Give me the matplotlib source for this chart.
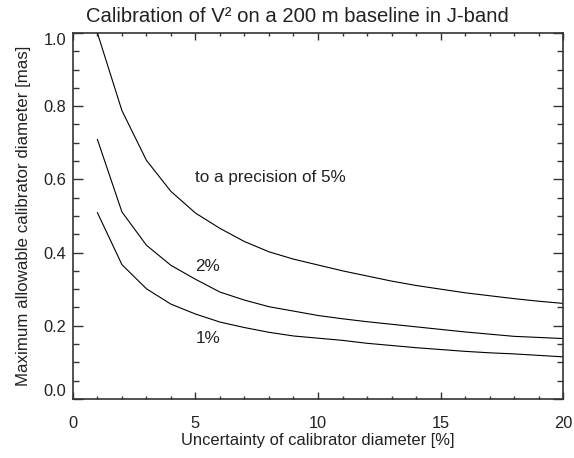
import numpy as np
import matplotlib
matplotlib.use('Agg')
import matplotlib.pyplot as plt
from matplotlib.ticker import MultipleLocator

plt.rcParams['font.family'] = ['Liberation Sans', 'DejaVu Sans']

# Uncertainty of calibrator diameter [%]
uncertainty = [1, 2, 3, 4, 5, 6, 7, 8, 9, 10, 11, 12, 13, 14, 15, 16, 17, 18, 19, 20]

# Maximum allowable diameter [mas] for each required precision
diam_5pct = [1.00, 0.788, 0.652, 0.567, 0.508, 0.466, 0.430, 0.402, 0.382, 0.366,
             0.350, 0.336, 0.322, 0.310, 0.300, 0.290, 0.282, 0.274, 0.267, 0.261]
diam_2pct = [0.709, 0.511, 0.420, 0.365, 0.327, 0.292, 0.270, 0.252, 0.240, 0.228,
             0.219, 0.211, 0.204, 0.197, 0.190, 0.183, 0.177, 0.171, 0.168, 0.165]
diam_1pct = [0.509, 0.367, 0.301, 0.259, 0.232, 0.210, 0.195, 0.182, 0.172, 0.166,
             0.160, 0.152, 0.146, 0.140, 0.135, 0.130, 0.126, 0.123, 0.119, 0.115]

curve_labels = ['to a precision of 5%', '2%', '1%']
label_pos = [(5.0, 0.605), (5.0, 0.362), (5.0, 0.165)]

xticks = [0, 5, 10, 15, 20]
yticks = [0.0, 0.2, 0.4, 0.6, 0.8, 1.0]

text_col = '#222222'
axis_col = '#333333'

fig = plt.figure(figsize=(5.74, 4.58), dpi=100)
ax = fig.add_axes([0.127, 0.129, 0.854, 0.799])

for d in [diam_5pct, diam_2pct, diam_1pct]:
    ax.plot(uncertainty, d, color='black', lw=0.8)

for lab, (lx, ly) in zip(curve_labels, label_pos):
    ax.text(lx, ly, lab, fontsize=12.3, color=text_col, ha='left', va='center')

ax.set_xlim(0, 20)
ax.set_ylim(0, 1.0)
ax.set_xticks(xticks)
ax.set_xticklabels([str(t) for t in xticks])
ax.set_yticks(yticks)
ax.set_yticklabels(['%.1f' % t for t in yticks])
ax.xaxis.set_minor_locator(MultipleLocator(1))
ax.yaxis.set_minor_locator(MultipleLocator(0.05))

ax.tick_params(axis='x', which='major', direction='in', length=5, width=1,
               top=True, pad=12, labelsize=11.8, labelcolor=text_col, color=axis_col)
ax.tick_params(axis='x', which='minor', direction='in', length=2.5, width=1,
               top=True, color=axis_col)
ax.tick_params(axis='y', which='major', direction='in', length=7.5, width=1,
               right=True, pad=5, labelsize=11.8, labelcolor=text_col, color=axis_col)
ax.tick_params(axis='y', which='minor', direction='in', length=4, width=1,
               right=True, color=axis_col)

# IDL-style: end labels pushed inside the axis range
ylabs = ax.get_yticklabels()
ylabs[0].set_verticalalignment('bottom')
ylabs[-1].set_verticalalignment('top')

for s in ax.spines.values():
    s.set_linewidth(1.2)
    s.set_color(axis_col)

ax.set_xlabel('Uncertainty of calibrator diameter [%]', fontsize=11.9, color=text_col, labelpad=2)
ax.set_ylabel('Maximum allowable calibrator diameter [mas]', fontsize=12.2, color=text_col, labelpad=9)
fig.text(297 / 574, 0.9526, 'Calibration of V\u00b2 on a 200 m baseline in J-band',
         fontsize=14.6, color=text_col, ha='center', va='baseline')

fig.savefig('out.png', dpi=100)
